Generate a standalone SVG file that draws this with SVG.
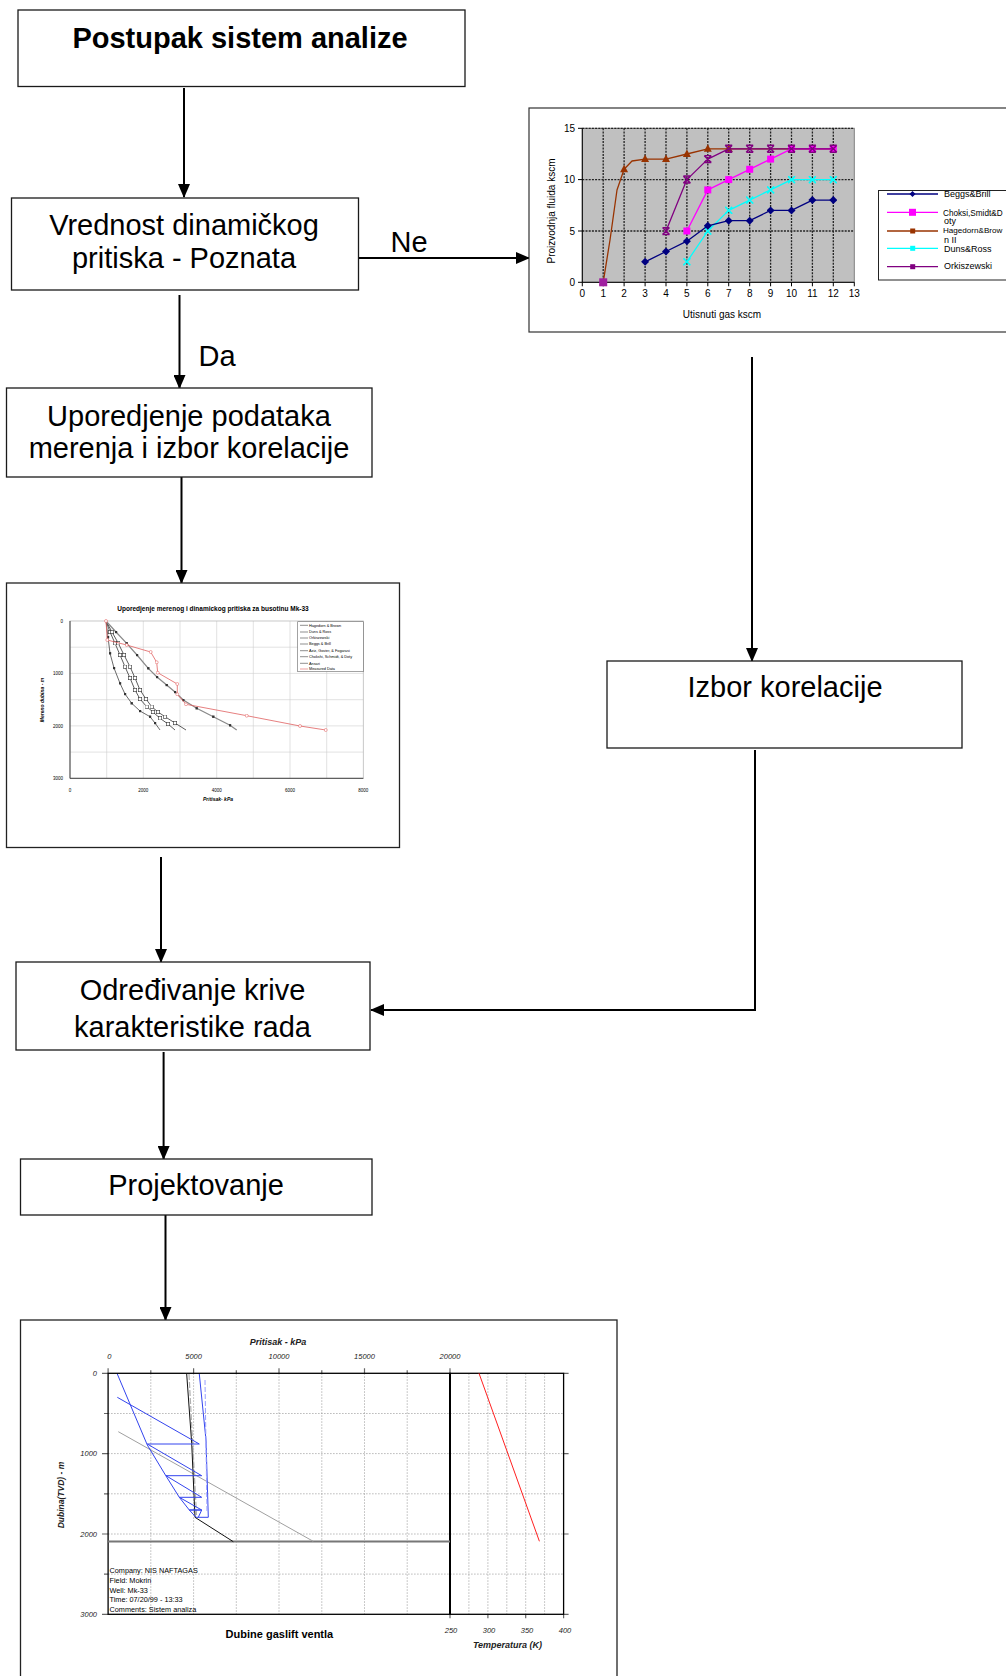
<svg xmlns="http://www.w3.org/2000/svg" width="1006" height="1676" viewBox="0 0 1006 1676">
<style>
.box{fill:#fff;stroke:#1a1a1a;stroke-width:1.3}
.lbl{font-family:"Liberation Sans",Arial,sans-serif;font-size:29px;fill:#000;text-anchor:middle}
.ttl{font-family:"Liberation Sans",Arial,sans-serif;font-size:29px;font-weight:bold;fill:#000;text-anchor:middle}
.con{fill:none;stroke:#000;stroke-width:2}
.sm{font-family:"Liberation Sans",Arial,sans-serif;fill:#000}
.grid1{stroke:#222;stroke-width:1.3;stroke-dasharray:2 1.2}
.g2{stroke:#cfcfcf;stroke-width:0.6}
.g3{stroke:#9a9a9a;stroke-width:0.7;stroke-dasharray:1.5 1.5}
.it{font-family:"Liberation Sans",Arial,sans-serif;font-style:italic;fill:#222}
</style>
<defs>
<marker id="arr" markerUnits="userSpaceOnUse" markerWidth="14" markerHeight="12" refX="13" refY="6" orient="auto">
<path d="M0,0 L14,6 L0,12 Z" fill="#000"/>
</marker>
<marker id="mDia" markerUnits="userSpaceOnUse" markerWidth="8" markerHeight="8" refX="4" refY="4"><path d="M4,0 L8,4 L4,8 L0,4 Z" fill="#000080"/></marker>
<marker id="mSq" markerUnits="userSpaceOnUse" markerWidth="8" markerHeight="8" refX="4" refY="4"><rect x="0.5" y="0.5" width="7" height="7" fill="#ff00ff"/></marker>
<marker id="mTri" markerUnits="userSpaceOnUse" markerWidth="9" markerHeight="9" refX="4.5" refY="5"><path d="M4.5,0.5 L8.5,8 L0.5,8 Z" fill="#993300"/></marker>
<marker id="mX" markerUnits="userSpaceOnUse" markerWidth="8" markerHeight="8" refX="4" refY="4"><path d="M0.5,0.5 L7.5,7.5 M7.5,0.5 L0.5,7.5" stroke="#00ffff" stroke-width="1.6"/></marker>
<marker id="mAst" markerUnits="userSpaceOnUse" markerWidth="9" markerHeight="9" refX="4.5" refY="4.5"><path d="M1,1 L8,8 M8,1 L1,8 M1,1 L8,1 M1,8 L8,8" stroke="#800080" stroke-width="1.5"/></marker>
<marker id="mS" markerUnits="userSpaceOnUse" markerWidth="4" markerHeight="4" refX="2" refY="2"><rect x="0.3" y="0.3" width="3.4" height="3.4" fill="#fff" stroke="#333" stroke-width="0.6"/></marker>
<marker id="mC" markerUnits="userSpaceOnUse" markerWidth="4" markerHeight="4" refX="2" refY="2"><circle cx="2" cy="2" r="1.5" fill="#fff" stroke="#e05050" stroke-width="0.5"/></marker>
<marker id="mD" markerUnits="userSpaceOnUse" markerWidth="3" markerHeight="3" refX="1.5" refY="1.5"><rect x="0.3" y="0.3" width="2.4" height="2.4" fill="#333"/></marker>
</defs>

<g id="connectors">
<line class="con" x1="184" y1="88" x2="184" y2="197" marker-end="url(#arr)"/>
<line class="con" x1="355" y1="258" x2="529" y2="258" marker-end="url(#arr)"/>
<text class="lbl" x="409" y="252" font-size="28">Ne</text>
<line class="con" x1="179.5" y1="295" x2="179.5" y2="388" marker-end="url(#arr)"/>
<text class="lbl" x="217" y="366" font-size="28">Da</text>
<line class="con" x1="181.5" y1="477" x2="181.5" y2="583" marker-end="url(#arr)"/>
<line class="con" x1="752" y1="357" x2="752" y2="661" stroke-width="1.6" marker-end="url(#arr)"/>
<line class="con" x1="755" y1="750" x2="755" y2="1010" stroke-width="1.6"/>
<line class="con" x1="756" y1="1010" x2="371" y2="1010" stroke-width="3" marker-end="url(#arr)"/>
<line class="con" x1="161" y1="857" x2="161" y2="962" marker-end="url(#arr)"/>
<line class="con" x1="163.6" y1="1052" x2="163.6" y2="1159" marker-end="url(#arr)"/>
<line class="con" x1="165.5" y1="1215" x2="165.5" y2="1320" marker-end="url(#arr)"/>
</g>

<g id="node-postupak">
<rect class="box" x="18" y="10" width="447" height="76.5"/>
<text class="ttl" x="240" y="48">Postupak sistem analize</text>
</g>

<g id="node-vrednost">
<rect class="box" x="11.5" y="198" width="347" height="92"/>
<text class="lbl" x="184" y="235">Vrednost dinamičkog</text>
<text class="lbl" x="184" y="268">pritiska - Poznata</text>
</g>

<g id="node-chart-proizvodnja">
<rect x="529" y="108" width="500" height="224" fill="#fff" stroke="#333" stroke-width="1.2"/>
<rect x="582.3" y="128.3" width="272" height="154" fill="#c0c0c0" stroke="#808080" stroke-width="1"/>
<g class="grid1">
<line x1="603.2" y1="128.3" x2="603.2" y2="282.3"/><line x1="624.1" y1="128.3" x2="624.1" y2="282.3"/>
<line x1="645.1" y1="128.3" x2="645.1" y2="282.3"/><line x1="666" y1="128.3" x2="666" y2="282.3"/>
<line x1="686.9" y1="128.3" x2="686.9" y2="282.3"/><line x1="707.8" y1="128.3" x2="707.8" y2="282.3"/>
<line x1="728.7" y1="128.3" x2="728.7" y2="282.3"/><line x1="749.7" y1="128.3" x2="749.7" y2="282.3"/>
<line x1="770.6" y1="128.3" x2="770.6" y2="282.3"/><line x1="791.5" y1="128.3" x2="791.5" y2="282.3"/>
<line x1="812.4" y1="128.3" x2="812.4" y2="282.3"/><line x1="833.3" y1="128.3" x2="833.3" y2="282.3"/>
<line x1="582.3" y1="231" x2="854.3" y2="231"/><line x1="582.3" y1="179.6" x2="854.3" y2="179.6"/>
<line x1="582.3" y1="128.3" x2="854.3" y2="128.3"/>
</g>
<path d="M582.3,128.3 V282.3 H854.3 M578,128.3 H582.3 M578,179.6 H582.3 M578,231 H582.3 M578,282.3 H582.3 M582.3,282.3 v4 M603.2,282.3 v4 M624.1,282.3 v4 M645.1,282.3 v4 M666,282.3 v4 M686.9,282.3 v4 M707.8,282.3 v4 M728.7,282.3 v4 M749.7,282.3 v4 M770.6,282.3 v4 M791.5,282.3 v4 M812.4,282.3 v4 M833.3,282.3 v4 M854.3,282.3 v4" fill="none" stroke="#000" stroke-width="1"/>
<g class="sm" font-size="10" text-anchor="end">
<text x="575" y="132">15</text><text x="575" y="183.3">10</text><text x="575" y="234.7">5</text><text x="575" y="286">0</text>
</g>
<g class="sm" font-size="10" text-anchor="middle">
<text x="582.3" y="297">0</text><text x="603.2" y="297">1</text><text x="624.1" y="297">2</text><text x="645.1" y="297">3</text><text x="666" y="297">4</text><text x="686.9" y="297">5</text><text x="707.8" y="297">6</text><text x="728.7" y="297">7</text><text x="749.7" y="297">8</text><text x="770.6" y="297">9</text><text x="791.5" y="297">10</text><text x="812.4" y="297">11</text><text x="833.3" y="297">12</text><text x="854.3" y="297">13</text>
<text x="722" y="318">Utisnuti gas kscm</text>
<text transform="translate(555,211) rotate(-90)">Proizvodnja fluida kscm</text>
</g>
<polyline fill="none" stroke="#993300" stroke-width="1.3" stroke-linejoin="round" points="603.2,282.3 610,240 617,190 624.1,169.3 632,161 645.1,159.1 666,159.1 686.9,154 707.8,148.8 728.7,148.8 749.7,148.8 770.6,148.8 791.5,148.8 812.4,148.8 833.3,148.8"/>
<polyline fill="none" stroke="none" marker-start="url(#mTri)" marker-mid="url(#mTri)" marker-end="url(#mTri)" points="603.2,282.3 624.1,169.3 645.1,159.1 666,159.1 686.9,154 707.8,148.8 728.7,148.8"/>
<polyline fill="none" stroke="#ff00ff" stroke-width="1.3" stroke-linejoin="round" marker-start="url(#mSq)" marker-mid="url(#mSq)" marker-end="url(#mSq)" points="686.9,231 707.8,189.9 728.7,179.6 749.7,169.3 770.6,159.1 791.5,148.8 812.4,148.8 833.3,148.8"/>
<polyline fill="none" stroke="#00ffff" stroke-width="1.3" stroke-linejoin="round" marker-start="url(#mX)" marker-mid="url(#mX)" marker-end="url(#mX)" points="686.9,261.8 707.8,231 728.7,210.4 749.7,200.1 770.6,189.9 791.5,179.6 812.4,179.6 833.3,179.6"/>
<polyline fill="none" stroke="#000080" stroke-width="1.3" stroke-linejoin="round" marker-start="url(#mDia)" marker-mid="url(#mDia)" marker-end="url(#mDia)" points="645.1,261.8 666,251.5 686.9,241.2 707.8,225.8 728.7,220.7 749.7,220.7 770.6,210.4 791.5,210.4 812.4,200.1 833.3,200.1"/>
<polyline fill="none" stroke="#800080" stroke-width="1.3" stroke-linejoin="round" marker-start="url(#mAst)" marker-mid="url(#mAst)" marker-end="url(#mAst)" points="666,231 686.9,179.6 707.8,159.1 728.7,148.8 749.7,148.8 770.6,148.8 791.5,148.8 812.4,148.8 833.3,148.8"/>
<rect x="599.2" y="278.3" width="8" height="8" fill="#a020a0"/>
<rect x="878.5" y="190.5" width="140" height="89.5" fill="#fff" stroke="#222" stroke-width="1"/>
<line x1="887" y1="194" x2="938" y2="194" stroke="#000080" stroke-width="1.3"/>
<path d="M909.5,194 l3,-3 l3,3 l-3,3 z" fill="#000080"/>
<line x1="887" y1="212.3" x2="938" y2="212.3" stroke="#ff00ff" stroke-width="1.3"/>
<rect x="909" y="208.8" width="7" height="7" fill="#ff00ff"/>
<line x1="887" y1="231" x2="938" y2="231" stroke="#993300" stroke-width="1.3"/>
<rect x="910.2" y="228.5" width="5" height="5" fill="#993300"/>
<line x1="887" y1="248.3" x2="938" y2="248.3" stroke="#00ffff" stroke-width="1.3"/>
<rect x="910.2" y="245.8" width="5" height="5" fill="#00ffff"/>
<line x1="887" y1="266.7" x2="938" y2="266.7" stroke="#800080" stroke-width="1.3"/>
<rect x="910.2" y="264.2" width="5" height="5" fill="#800080"/>
<g class="sm" font-size="9">
<text x="944" y="197.3">Beggs&amp;Brill</text>
<text x="943" y="216" font-size="8.2">Choksi,Smidt&amp;D</text><text x="944" y="224">oty</text>
<text x="943" y="233.3" font-size="8.1">Hagedorn&amp;Brow</text><text x="944" y="242.7">n II</text>
<text x="944" y="251.7">Duns&amp;Ross</text>
<text x="944" y="269.3">Orkiszewski</text>
</g>
</g>

<g id="node-uporedjenje">
<rect class="box" x="6.5" y="388" width="365.5" height="89"/>
<text class="lbl" x="189" y="426">Uporedjenje podataka</text>
<text class="lbl" x="189" y="458">merenja i izbor korelacije</text>
</g>

<g id="node-chart-uporedjenje">
<rect x="6.5" y="583" width="393" height="264.5" fill="#fff" stroke="#222" stroke-width="1.3"/>
<text class="sm" x="213" y="610.7" font-size="6.5" font-weight="bold" text-anchor="middle" fill="#333">Uporedjenje merenog i dinamickog pritiska za busotinu Mk-33</text>
<g class="g2">
<line x1="70" y1="647.2" x2="363.3" y2="647.2"/><line x1="70" y1="673.4" x2="363.3" y2="673.4"/><line x1="70" y1="699.7" x2="363.3" y2="699.7"/><line x1="70" y1="725.9" x2="363.3" y2="725.9"/><line x1="70" y1="752.1" x2="363.3" y2="752.1"/>
<line x1="106.7" y1="621" x2="106.7" y2="778.3"/><line x1="143.3" y1="621" x2="143.3" y2="778.3"/><line x1="180" y1="621" x2="180" y2="778.3"/><line x1="216.7" y1="621" x2="216.7" y2="778.3"/><line x1="253.3" y1="621" x2="253.3" y2="778.3"/><line x1="290" y1="621" x2="290" y2="778.3"/><line x1="326.7" y1="621" x2="326.7" y2="778.3"/>
</g>
<rect x="70" y="621" width="293.3" height="157.3" fill="none" stroke="#bbb" stroke-width="0.8"/>
<path d="M70,621 V778.3 H363.3" fill="none" stroke="#444" stroke-width="1"/>
<g class="sm" font-size="4.5" fill="#555" text-anchor="end">
<text x="63" y="622.5">0</text><text x="63" y="675">1000</text><text x="63" y="727.5">2000</text><text x="63" y="780">3000</text>
</g>
<g class="sm" font-size="4.5" fill="#555" text-anchor="middle">
<text x="70" y="792">0</text><text x="143.3" y="792">2000</text><text x="216.7" y="792">4000</text><text x="290" y="792">6000</text><text x="363.3" y="792">8000</text>
</g>
<text class="sm" x="218" y="801" font-size="5" font-weight="bold" font-style="italic" text-anchor="middle" fill="#333">Pritisak- kPa</text>
<text class="sm" transform="translate(44,700) rotate(-90)" font-size="5" font-weight="bold" font-style="italic" text-anchor="middle" fill="#333">Mereno dubina - m</text>
<polyline fill="none" stroke="#444" stroke-width="0.8" marker-mid="url(#mD)" points="106,621 108,637 110,653.3 114,668 120,683.3 125,694 131.7,703.3 140,711 150,716.7 155,723 160,730"/>
<polyline fill="none" stroke="#333" stroke-width="0.8" marker-mid="url(#mS)" points="106,621 110,632 115,643.3 120,655 125,666.7 130,678 135,690 140,699 146.7,706.7 153,712 160,718.3 168,724 175,730"/>
<polyline fill="none" stroke="#333" stroke-width="0.8" marker-mid="url(#mS)" points="106,621 112,632 118.3,643.3 124,655 130,666.7 135,678 140,690 146,699 151.7,706.7 158,712 165,716.7 175,723 186,730"/>
<polyline fill="none" stroke="#888" stroke-width="1.2" marker-mid="url(#mD)" points="106,621 116,632 126.7,643.3 137,655 148.3,668.3 157,677 166.7,685 175,692 183.3,700 196.7,708.3 213.3,716.7 230,725.3 236.7,730"/>
<polyline fill="none" stroke="#e06060" stroke-width="0.8" marker-start="url(#mC)" marker-mid="url(#mC)" marker-end="url(#mC)" points="106,621 107.3,640 126.7,645 150.7,652 156.7,662.3 157.7,672.7 177.3,684 177.3,694.3 186,704.3 246.7,715.7 300,726 325.7,730"/>
<rect x="297.7" y="621.7" width="65.6" height="50" fill="#fff" stroke="#666" stroke-width="0.6"/>
<g stroke="#444" stroke-width="0.6">
<line x1="300" y1="625.3" x2="308" y2="625.3"/><line x1="300" y1="632" x2="308" y2="632"/><line x1="300" y1="638" x2="308" y2="638"/><line x1="300" y1="644" x2="308" y2="644"/><line x1="300" y1="650.7" x2="308" y2="650.7"/><line x1="300" y1="656.7" x2="308" y2="656.7"/><line x1="300" y1="663.3" x2="308" y2="663.3"/><line x1="300" y1="669" x2="308" y2="669" stroke="#e06060"/>
</g>
<g class="sm" font-size="3.8" fill="#444">
<text x="309" y="626.6">Hagedorn &amp; Brown</text><text x="309" y="633.3">Duns &amp; Ross</text><text x="309" y="639.3">Orkiszewski</text><text x="309" y="645.3">Beggs &amp; Brill</text><text x="309" y="652">Aziz, Govier, &amp; Fogarasi</text><text x="309" y="658">Chokshi, Schmidt, &amp; Doty</text><text x="309" y="664.6">Ansari</text><text x="309" y="670.3">Measured Data</text>
</g>
</g>

<g id="node-izbor">
<rect class="box" x="607" y="661" width="355" height="87"/>
<text class="lbl" x="785" y="697">Izbor korelacije</text>
</g>

<g id="node-odredjivanje">
<rect class="box" x="16" y="962" width="354" height="88"/>
<text class="lbl" x="192.5" y="1000">Određivanje krive</text>
<text class="lbl" x="192.5" y="1037">karakteristike rada</text>
</g>

<g id="node-projektovanje">
<rect class="box" x="20.5" y="1159" width="351.5" height="56"/>
<text class="lbl" x="196" y="1195">Projektovanje</text>
</g>

<g id="node-chart-projektovanje">
<rect x="20.5" y="1320" width="596.5" height="400" fill="#fff" stroke="#222" stroke-width="1.3"/>
<text class="it" x="278" y="1345" font-size="9" font-weight="bold" text-anchor="middle">Pritisak - kPa</text>
<g class="it" font-size="7.5" text-anchor="middle">
<text x="109.3" y="1359">0</text><text x="193.6" y="1359">5000</text><text x="279" y="1359">10000</text><text x="364.5" y="1359">15000</text><text x="450" y="1359">20000</text>
<text x="451" y="1633">250</text><text x="489" y="1633">300</text><text x="527" y="1633">350</text><text x="565" y="1633">400</text>
</g>
<g class="it" font-size="7.5" text-anchor="end">
<text x="97" y="1376">0</text><text x="97" y="1456">1000</text><text x="97" y="1537">2000</text><text x="97" y="1617">3000</text>
</g>
<text class="it" transform="translate(64,1495) rotate(-90)" font-size="8.5" font-weight="bold" text-anchor="middle">Dubina(TVD) - m</text>
<text class="it" x="507.5" y="1648" font-size="9" font-weight="bold" text-anchor="middle">Temperatura (K)</text>
<text class="sm" x="279.4" y="1638.3" font-size="11" font-weight="bold" text-anchor="middle" fill="#111">Dubine gaslift ventla</text>
<g class="g3">
<line x1="150.8" y1="1373.3" x2="150.8" y2="1614.3"/><line x1="193.6" y1="1373.3" x2="193.6" y2="1614.3"/><line x1="236.3" y1="1373.3" x2="236.3" y2="1614.3"/><line x1="279" y1="1373.3" x2="279" y2="1614.3"/><line x1="321.8" y1="1373.3" x2="321.8" y2="1614.3"/><line x1="364.5" y1="1373.3" x2="364.5" y2="1614.3"/><line x1="407.2" y1="1373.3" x2="407.2" y2="1614.3"/>
<line x1="108.1" y1="1413.5" x2="563.6" y2="1413.5"/><line x1="108.1" y1="1453.6" x2="563.6" y2="1453.6"/><line x1="108.1" y1="1493.8" x2="563.6" y2="1493.8"/><line x1="108.1" y1="1534" x2="563.6" y2="1534"/><line x1="108.1" y1="1574.1" x2="563.6" y2="1574.1"/>
<line x1="468.9" y1="1373.3" x2="468.9" y2="1614.3"/><line x1="487.9" y1="1373.3" x2="487.9" y2="1614.3"/><line x1="506.8" y1="1373.3" x2="506.8" y2="1614.3"/><line x1="525.7" y1="1373.3" x2="525.7" y2="1614.3"/><line x1="544.6" y1="1373.3" x2="544.6" y2="1614.3"/>
</g>
<path d="M102,1373.3 H108.1 M104,1413.5 H108.1 M102,1453.6 H108.1 M104,1493.8 H108.1 M102,1534 H108.1 M104,1574.1 H108.1 M102,1614.3 H108.1 M108.1,1373.3 v-5 M150.8,1373.3 v-3 M193.6,1373.3 v-5 M236.3,1373.3 v-3 M279,1373.3 v-5 M321.8,1373.3 v-3 M364.5,1373.3 v-5 M407.2,1373.3 v-3 M450,1373.3 v-5 M563.6,1373.3 h5 M563.6,1453.6 h5 M563.6,1534 h5 M563.6,1614.3 h5 M450,1614.3 v4 M487.9,1614.3 v4 M525.7,1614.3 v4 M563.6,1614.3 v4" fill="none" stroke="#666" stroke-width="1.2"/>
<rect x="108.1" y="1373.3" width="341.9" height="241" fill="none" stroke="#000" stroke-width="1.3"/>
<rect x="450" y="1373.3" width="113.6" height="241" fill="none" stroke="#000" stroke-width="1.3"/>
<line x1="450" y1="1373.3" x2="450" y2="1614.3" stroke="#000" stroke-width="2"/>
<line x1="108.1" y1="1541.5" x2="450" y2="1541.5" stroke="#777" stroke-width="1.8"/>
<line x1="479" y1="1373.3" x2="539.4" y2="1541.3" stroke="#ff2020" stroke-width="1"/>
<line x1="118.3" y1="1431.7" x2="313.2" y2="1541.3" stroke="#a0a0a0" stroke-width="1"/>
<line x1="189" y1="1374" x2="196.5" y2="1515" stroke="#b0b0b0" stroke-width="1.2" stroke-dasharray="6 2"/>
<polyline fill="none" stroke="#111" stroke-width="1" points="186.7,1374 191.7,1443.3 195,1517.3 233.3,1541.7"/>
<polyline fill="none" stroke="#3344ee" stroke-width="1" points="117.3,1374 147.3,1445 166,1476 179.3,1497.3 189.3,1510 196,1517.3"/>
<polyline fill="none" stroke="#3344ee" stroke-width="1" points="199.3,1374 206,1440 208.3,1517.3 196,1517.3"/>
<line x1="205" y1="1380" x2="207" y2="1512" stroke="#99a0ff" stroke-width="1" stroke-dasharray="5 2"/>
<polyline fill="none" stroke="#3344ee" stroke-width="1" points="117.3,1397.3 199.3,1444 147.3,1444 201.7,1475.7 166,1475.7 201.7,1497.3 179.3,1497.3 201.7,1510 189.3,1510 201.7,1510 198.3,1517.3"/>
<g class="sm" font-size="7.3" fill="#222">
<text x="109.5" y="1573.3">Company: NIS NAFTAGAS</text>
<text x="109.5" y="1582.9">Field: Mokrin</text>
<text x="109.5" y="1592.5">Well: Mk-33</text>
<text x="109.5" y="1602.1">Time: 07/20/99 - 13:33</text>
<text x="109.5" y="1611.7">Comments: Sistem analiza</text>
</g>
</g>
</svg>
